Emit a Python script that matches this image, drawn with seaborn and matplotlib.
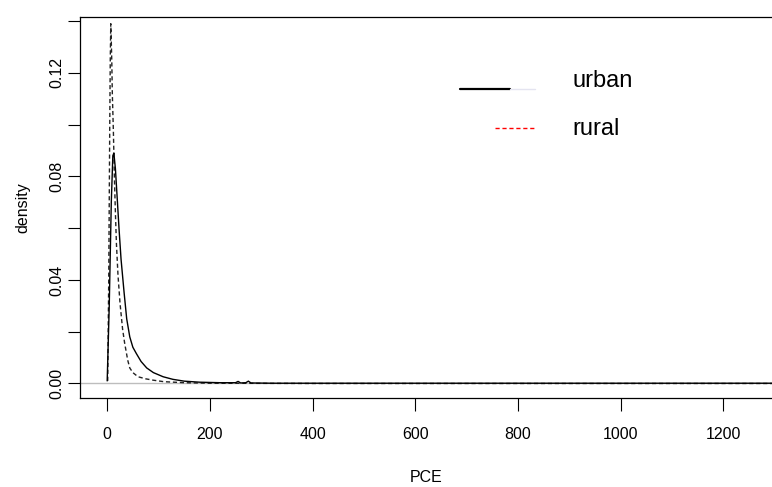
import numpy as np
import pandas as pd
import matplotlib
matplotlib.use("Agg")
import matplotlib.pyplot as plt
import seaborn as sns

# density curves (PCE vs density)
urban_x = [0, 4, 8, 11, 13, 16, 20, 23, 27, 33, 38, 44, 50, 57, 66, 77, 90, 109, 128,
           150, 180, 220, 250, 255, 260, 270, 275, 280, 320, 500, 800, 1100, 1300]
urban_density = [0.001, 0.030, 0.070, 0.088, 0.089, 0.083, 0.070, 0.060, 0.048, 0.035,
                 0.025, 0.018, 0.014, 0.0115, 0.0085, 0.006, 0.0042, 0.0026, 0.0016,
                 0.0009, 0.0005, 0.0003, 0.0003, 0.0008, 0.0002, 0.0003, 0.0009, 0.0002,
                 0.0001, 0.0001, 0.0001, 0.0001, 0.0001]
rural_x = [1, 3, 5, 6, 7, 8, 9, 10, 12, 14, 16, 18, 21, 25, 30, 34, 40, 44, 50, 60,
           75, 89, 110, 150, 200, 400, 800, 1300]
rural_density = [0.001, 0.040, 0.100, 0.125, 0.139, 0.132, 0.124, 0.112, 0.098, 0.080,
                 0.066, 0.054, 0.042, 0.031, 0.021, 0.0156, 0.009, 0.006, 0.0042, 0.0026,
                 0.0018, 0.0013, 0.0007, 0.0003, 0.0001, 0.0, 0.0, 0.0]
x_ticks = [0, 200, 400, 600, 800, 1000, 1200]
y_ticks = [0.00, 0.02, 0.04, 0.06, 0.08, 0.10, 0.12, 0.14]
y_labels = ["0.00", "", "0.04", "", "0.08", "", "0.12", ""]

sns.set_style("white")
plt.rcParams["font.family"] = ["Liberation Sans", "DejaVu Sans"]
plt.rcParams.update({"text.color": "black", "axes.labelcolor": "black",
                     "xtick.labelcolor": "black", "ytick.labelcolor": "black"})

urban = pd.DataFrame({"PCE": urban_x, "density": urban_density})
rural = pd.DataFrame({"PCE": rural_x, "density": rural_density})

fig = plt.figure(figsize=(7.72, 4.87), dpi=100)
ax = fig.add_axes([0.1036, 0.1828, 0.8964, 0.7823])

ax.axhline(0, color="#bdbdbd", linewidth=1, zorder=1)
sns.lineplot(data=urban, x="PCE", y="density", ax=ax, color="black",
             linewidth=1.0, estimator=None, sort=False, zorder=3)
sns.lineplot(data=rural, x="PCE", y="density", ax=ax, color="#222222",
             linewidth=1.0, linestyle=(0, (3, 2)), estimator=None, sort=False, zorder=2)

ax.set_xlim(-53, 1295)
ax.set_ylim(-0.0056, 0.1416)
ax.set_xticks(x_ticks)
ax.set_xticklabels([str(t) for t in x_ticks], fontsize=11.5)
ax.set_yticks(y_ticks)
ax.set_yticklabels(y_labels, fontsize=11.5, rotation=90, va="center")
ax.tick_params(axis="both", direction="out", length=9, width=0.8, color="black")
ax.tick_params(axis="x", pad=12, bottom=True)
ax.tick_params(axis="y", pad=2, left=True)
for side in ["left", "bottom", "top"]:
    ax.spines[side].set_color("black")
    ax.spines[side].set_linewidth(0.9)
ax.spines["right"].set_visible(False)

ax.set_xlabel("PCE", fontsize=11.5, labelpad=20)
ax.set_ylabel("density", fontsize=11.5, labelpad=14)

# legend drawn in axes fraction, as in the original
t = ax.transAxes
ax.plot([0.549, 0.621], [0.811, 0.811], transform=t, color="black", linewidth=1.6)
ax.plot([0.621, 0.657], [0.811, 0.811], transform=t, color="#e4e4f0", linewidth=1.0)
ax.plot([0.600, 0.657], [0.709, 0.709], transform=t, color="red", linewidth=1.0,
        linestyle=(0, (3, 2)))
ax.text(0.712, 0.816, "urban", transform=t, fontsize=17, va="baseline", ha="left")
ax.text(0.712, 0.690, "rural", transform=t, fontsize=17, va="baseline", ha="left")

fig.savefig("out.png", dpi=100, facecolor="white")
